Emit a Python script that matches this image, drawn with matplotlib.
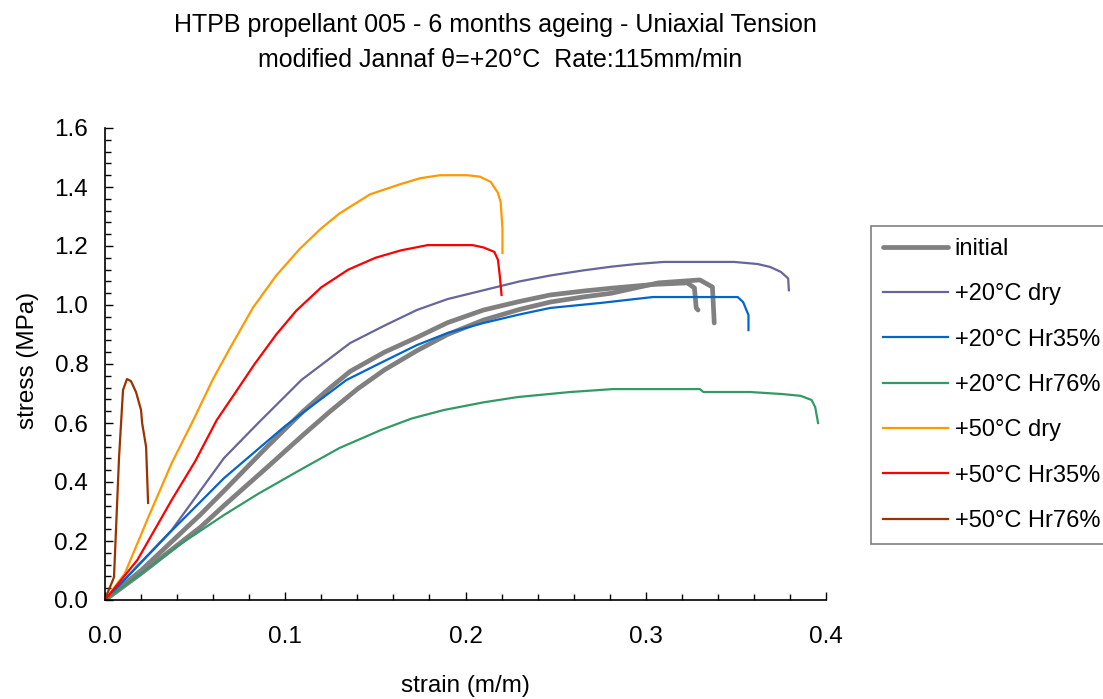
import matplotlib.pyplot as plt
from matplotlib.ticker import MultipleLocator

plt.rcParams['font.family'] = ['Liberation Sans', 'DejaVu Sans']

# initial (two specimens, one legend entry)
init1_strain = [0, 0.02, 0.053, 0.066, 0.09, 0.11, 0.125, 0.136, 0.155, 0.173, 0.19, 0.21, 0.23, 0.247,
                0.265, 0.281, 0.305, 0.323, 0.327, 0.328, 0.329]
init1_stress = [0, 0.1, 0.29, 0.37, 0.52, 0.64, 0.72, 0.775, 0.84, 0.89, 0.94, 0.983, 1.012, 1.034,
                1.047, 1.057, 1.07, 1.075, 1.058, 0.99, 0.983]
init2_strain = [0, 0.02, 0.053, 0.066, 0.09, 0.11, 0.125, 0.14, 0.155, 0.173, 0.19, 0.21, 0.23, 0.247, 0.265,
                0.281, 0.307, 0.33, 0.337, 0.338]
init2_stress = [0, 0.09, 0.247, 0.32, 0.45, 0.56, 0.64, 0.715, 0.78, 0.845, 0.9, 0.949, 0.985, 1.01, 1.027,
                1.04, 1.075, 1.085, 1.061, 0.939]

dry20_strain = [0, 0.037, 0.066, 0.085, 0.109, 0.136, 0.155, 0.173, 0.19, 0.21, 0.23, 0.247, 0.265, 0.281,
                0.295, 0.31, 0.349, 0.362, 0.369, 0.375, 0.379, 0.3794]
dry20_stress = [0, 0.237, 0.481, 0.60, 0.746, 0.871, 0.93, 0.983, 1.02, 1.05, 1.08, 1.10, 1.117, 1.13,
                1.139, 1.146, 1.146, 1.139, 1.129, 1.112, 1.09, 1.05]

hr35_20_strain = [0, 0.037, 0.066, 0.1, 0.134, 0.155, 0.173, 0.19, 0.21, 0.23, 0.247, 0.275, 0.304, 0.351,
                  0.354, 0.357, 0.357]
hr35_20_stress = [0, 0.235, 0.413, 0.59, 0.746, 0.81, 0.864, 0.905, 0.939, 0.968, 0.99, 1.007, 1.027, 1.027,
                  1.01, 0.966, 0.915]

hr76_20_strain = [0, 0.02, 0.042, 0.066, 0.085, 0.108, 0.13, 0.153, 0.17, 0.188, 0.21, 0.229, 0.258, 0.282,
                  0.33, 0.332, 0.358, 0.376, 0.386, 0.392, 0.394, 0.3956]
hr76_20_stress = [0, 0.09, 0.19, 0.288, 0.36, 0.44, 0.515, 0.576, 0.615, 0.644, 0.67, 0.688, 0.705, 0.715,
                  0.715, 0.705, 0.705, 0.698, 0.692, 0.678, 0.654, 0.60]

dry50_strain = [0, 0.011, 0.024, 0.037, 0.049, 0.06, 0.069, 0.082, 0.095, 0.108, 0.12, 0.13, 0.147, 0.164,
                0.175, 0.186, 0.201, 0.208, 0.214, 0.218, 0.2195, 0.2205, 0.2205]
dry50_stress = [0, 0.09, 0.28, 0.464, 0.61, 0.75, 0.85, 0.99, 1.1, 1.19, 1.26, 1.31, 1.375, 1.41,
                1.43, 1.44, 1.44, 1.435, 1.417, 1.38, 1.349, 1.26, 1.176]

hr35_50_strain = [0, 0.018, 0.037, 0.05, 0.062, 0.072, 0.083, 0.095, 0.106, 0.12, 0.135, 0.15, 0.164, 0.179,
                  0.204, 0.21, 0.216, 0.218, 0.219, 0.22]
hr35_50_stress = [0, 0.136, 0.339, 0.47, 0.61, 0.70, 0.80, 0.90, 0.98, 1.06, 1.12, 1.16, 1.185, 1.203,
                  1.203, 1.195, 1.18, 1.153, 1.1, 1.034]

hr76_50_strain = [0, 0.0044, 0.005, 0.0078, 0.010, 0.0122, 0.0144, 0.0172, 0.020, 0.0206, 0.0228, 0.0239]
hr76_50_stress = [0.003, 0.068, 0.078, 0.485, 0.712, 0.749, 0.742, 0.705, 0.644, 0.60, 0.519, 0.329]

fs = 17.5

fig = plt.figure(figsize=(11.03, 6.99), dpi=100)
ax = fig.add_axes([105/1103, 1-600/699, (826-105)/1103, (600-128)/699])

ax.plot(init1_strain, init1_stress, color='#808080', lw=3.4, solid_capstyle='round', label='initial')
ax.plot(init2_strain, init2_stress, color='#808080', lw=3.4, solid_capstyle='round')
ax.plot(dry20_strain, dry20_stress, color='#666699', lw=1.6, label='+20°C dry')
ax.plot(hr35_20_strain, hr35_20_stress, color='#0066cc', lw=1.6, label='+20°C Hr35%')
ax.plot(hr76_20_strain, hr76_20_stress, color='#339966', lw=1.6, label='+20°C Hr76%')
ax.plot(dry50_strain, dry50_stress, color='#ff9900', lw=1.6, label='+50°C dry')
ax.plot(hr35_50_strain, hr35_50_stress, color='#ff0000', lw=1.6, label='+50°C Hr35%')
ax.plot(hr76_50_strain, hr76_50_stress, color='#993300', lw=1.6, label='+50°C Hr76%')

ax.set_xlim(0, 0.4)
ax.set_ylim(0, 1.6)
ax.xaxis.set_major_locator(MultipleLocator(0.1))
ax.xaxis.set_minor_locator(MultipleLocator(0.02))
ax.yaxis.set_major_locator(MultipleLocator(0.2))
ax.yaxis.set_minor_locator(MultipleLocator(0.04))
ax.xaxis.set_major_formatter(lambda v, p: f'{v:.1f}')
ax.yaxis.set_major_formatter(lambda v, p: f'{v:.1f}')
ax.tick_params(which='major', direction='in', length=6, width=1, labelsize=fs)
ax.tick_params(which='minor', direction='in', length=4, width=1)
ax.tick_params(axis='x', which='major', pad=19)
ax.tick_params(axis='y', which='major', pad=12)
for s in ['top', 'right']:
    ax.spines[s].set_visible(False)
for s in ['left', 'bottom']:
    ax.spines[s].set_linewidth(1.2)

fig.text(465/1103, 1-686/699, 'strain (m/m)', fontsize=fs, ha='center', va='center')
fig.text(28/1103, 1-360/699, 'stress (MPa)', fontsize=fs, rotation=90, ha='center', va='center')
fig.text(495/1103, 1-25/699, 'HTPB propellant 005 - 6 months ageing - Uniaxial Tension',
         fontsize=18, ha='center', va='center')
fig.text(500/1103, 1-60/699, 'modified Jannaf θ=+20°C  Rate:115mm/min',
         fontsize=18, ha='center', va='center')

leg = ax.legend(loc='upper left', bbox_to_anchor=(871/1103, 1-226/699), bbox_transform=fig.transFigure,
                fontsize=17, frameon=True, fancybox=False, handlelength=2.75, handletextpad=0.3,
                labelspacing=0.99, borderpad=0.5, borderaxespad=0)
leg.get_frame().set_edgecolor('#606060')
leg.get_frame().set_linewidth(1.2)

fig.savefig('out.png', dpi=100)
